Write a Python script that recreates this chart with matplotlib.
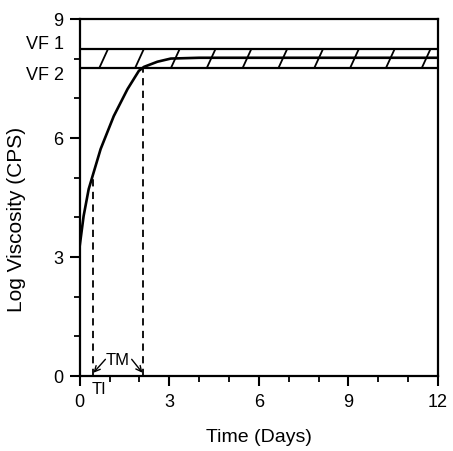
import numpy as np
import matplotlib
matplotlib.use("Agg")
import matplotlib.pyplot as plt
from matplotlib.ticker import MultipleLocator

plt.rcParams['font.family'] = ['Liberation Sans', 'DejaVu Sans']

# data
time_days = [0.0, 0.13, 0.3, 0.47, 0.7, 1.14, 1.6, 1.98, 2.15, 2.6, 3.05, 4.0, 12.0]
log_visc = [3.28, 4.03, 4.71, 5.14, 5.72, 6.55, 7.23, 7.69, 7.79, 7.92, 8.0, 8.02, 8.02]
vf1 = 8.23
vf2 = 7.77
t_i = 0.44
t_m = 2.12
x_ticks = [0, 3, 6, 9, 12]
y_ticks = [0, 3, 6, 9]

fig = plt.figure(figsize=(4.53, 4.52), dpi=100)
ax = fig.add_axes([0.176, 0.166, 0.791, 0.790])

ax.set_xlim(0, 12)
ax.set_ylim(0, 9)

# band between VF1 and VF2 with slanted hatch strokes
ax.axhline(vf1, color="black", lw=1.6)
ax.axhline(vf2, color="black", lw=1.6)
for s in np.arange(0.8, 12.0, 1.2):
    ax.plot([s - 0.14, s + 0.14], [vf2, vf1], color="black", lw=1.3)

# curve
ax.plot(time_days, log_visc, color="black", lw=1.9)

# dashed verticals
ti_v = float(np.interp(t_i, time_days, log_visc))
ax.plot([t_i, t_i], [0, ti_v], color="black", lw=1.3, ls=(0, (4, 3)))
ax.plot([t_m, t_m], [0, vf2], color="black", lw=1.3, ls=(0, (4, 3)))

# TM annotation with arrows
ax.text(1.28, 0.42, "TM", ha="center", va="center", fontsize=12)
ax.annotate("", xy=(t_i + 0.02, 0.08), xytext=(0.86, 0.42),
            arrowprops=dict(arrowstyle="->", color="black", lw=1.0,
                            shrinkA=0, shrinkB=0))
ax.annotate("", xy=(t_m - 0.02, 0.08), xytext=(1.74, 0.42),
            arrowprops=dict(arrowstyle="->", color="black", lw=1.0,
                            shrinkA=0, shrinkB=0))
ax.text(0.66, -0.12, "TI", ha="center", va="top", fontsize=12)

# VF labels
ax.text(-0.54, 8.37, "VF 1", ha="right", va="center", fontsize=13, clip_on=False)
ax.text(-0.54, 7.61, "VF 2", ha="right", va="center", fontsize=13, clip_on=False)

ax.set_xticks(x_ticks)
ax.set_yticks(y_ticks)
ax.xaxis.set_minor_locator(MultipleLocator(1))
ax.yaxis.set_minor_locator(MultipleLocator(1))
ax.tick_params(which="major", direction="out", length=7, width=1.5, labelsize=13, pad=5)
ax.tick_params(which="minor", direction="out", length=4, width=1.3)
ax.tick_params(axis="x", which="major", pad=5.5)

for sp in ax.spines.values():
    sp.set_linewidth(1.6)

ax.set_xlabel("Time (Days)", fontsize=14, labelpad=13)
ax.set_ylabel("Log Viscosity (CPS)", fontsize=15)
ax.yaxis.set_label_coords(-0.15, 0.44)

fig.savefig("out.png", dpi=100)
